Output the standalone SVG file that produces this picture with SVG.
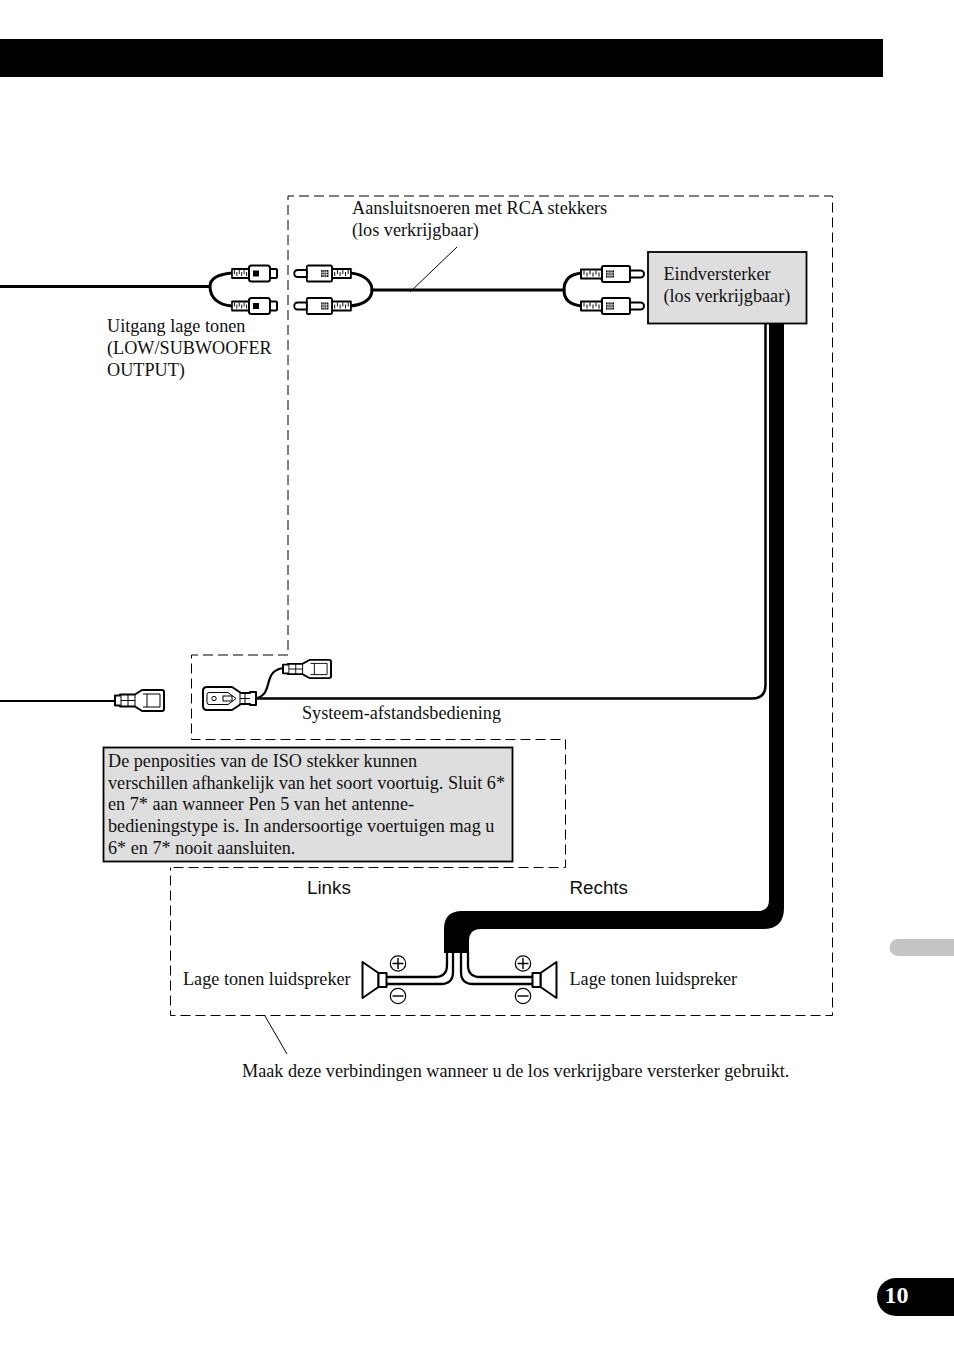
<svg xmlns="http://www.w3.org/2000/svg" width="954" height="1355" viewBox="0 0 954 1355">
<style>
text{font-family:"Liberation Serif","Times New Roman",serif;font-size:18.2px;fill:#111}
.h{font-family:"Liberation Sans",Arial,sans-serif;font-size:18.8px}
.d{fill:none;stroke:#000;stroke-width:1;stroke-dasharray:10 5}
.w{fill:none;stroke:#000;stroke-linecap:round}
.o{fill:#fff;stroke:#000;stroke-width:2;stroke-linejoin:round}
.l{fill:none;stroke:#000;stroke-width:1}
.k{fill:#000}
.b{fill:#dedede;stroke:#000;stroke-width:1.800}
</style>
<defs>
<g id="relief">
<path class="o" d="M-21-4.500H-1L0-6V6L-1 4.500H-21Z"/>
<path d="M-18-3.500v4M-15-1.500v4M-12-3.500v4M-9-1.500v4M-6-3.500v4M-3-1.500v4" stroke="#000" stroke-width="1" fill="none"/>
</g>
<g id="rca">
<use href="#relief" transform="translate(17,0) scale(.81,1)"/>
<rect class="o" x="17" y="-8" width="21" height="16" rx="2.500"/>
<rect class="k" x="21" y="-3" width="6" height="6"/>
<rect class="o" x="38" y="-4.500" width="7" height="9" rx="1"/>
</g>
<g id="rcam">
<use href="#relief"/>
<rect class="o" x="0" y="-8" width="28" height="16" rx="1.500"/>
<rect x="4" y="-3.500" width="8" height="7" fill="#000"/>
<path d="M6-3.500v7M8-3.500v7M10-3.500v7M4-1.200h8M4 1.200h8" stroke="#fff" stroke-width=".7"/>
<path class="o" stroke-width="1.500" d="M28-3.500H38.500a3.500 3.500 0 0 1 0 7H28Z"/>
</g>
<g id="iso">
<path class="o" d="M0-5H5V-6H20L27-10.500H47Q49-10.500 49-8.500V8.500Q49 10.500 47 10.500H27L20 6H5V5H0Z"/>
<path class="l" d="M6-6V6M13-6V6M6 0H20M20-6V6M28-6.500H45V6.500H28M32-6.500V6.500"/>
</g>
<g id="spk">
<path class="o" stroke-width="1.500" d="M0-18.500 16-7.500V6.500L0 17.500Z"/>
<rect class="o" stroke-width="1.500" x="16" y="-7.500" width="8" height="14"/>
</g>
<g id="plus"><circle r="7.700" fill="#fff" stroke="#000" stroke-width="1.200"/><path d="M-5.500 0H5.500M0-5.500V5.500" stroke="#000" stroke-width="1.400"/></g>
<g id="minus"><circle r="7.700" fill="#fff" stroke="#000" stroke-width="1.200"/><path d="M-5.500 0H5.500" stroke="#000" stroke-width="1.400"/></g>
</defs>
<g id="header"><rect x="0" y="39" width="883" height="38" fill="#000"/></g>
<g id="side-tab"><path d="M898 939H954V956H898A8.500 8.500 0 0 1 898 939Z" fill="#c4c4c4"/></g>
<g id="page-number">
<path d="M896 1278H954V1316H896A19 19 0 0 1 896 1278Z" fill="#000"/>
<text x="884.500" y="1303" style="font-size:24px;font-weight:bold;fill:#fff">10</text>
</g>
<g id="dashed-regions">
<path class="d" d="M288 650V196H832.500V1015.500H170.500V867.500"/>
<path class="d" d="M288 655H191.500V739.500H565.500V867.500H170.500"/>
</g>
<g id="connectors">
<path class="w" stroke-width="3" d="M0 286.500H209"/>
<path class="w" stroke-width="3" d="M232 273C220 274 210 278 210 286.500C210 299 220 305 232 306"/>
<path class="w" stroke-width="3" d="M350 273C362 274 372 280 372 290C372 300 362 305 350 306"/>
<path class="w" stroke-width="3" d="M372 290H564"/>
<path class="w" stroke-width="3" d="M582 273C570 274 564 280 564 290C564 300 570 305 582 306"/>
<path d="M457 247 410 292" stroke="#000" stroke-width="1" fill="none"/>
<path d="M0 701H115" stroke="#000" stroke-width="2" fill="none"/>
<path class="w" stroke-width="2.200" d="M257 698C268 695 267 685 270 678C272 672 277 669 283 668"/>
<path class="w" stroke-width="2.500" d="M257 698.500H752Q765.500 698.500 765.500 685V324"/>
<path fill="#000" d="M769 324H784V908Q784 929 763 929H481Q469 929 469 941V953H444V929Q444 911 462 911H758Q769 911 769 900Z"/>
<path class="w" stroke-width="2.300" d="M447 952V965Q447 977 435 977H386M453 952V972Q453 984 441 984H386"/>
<path class="w" stroke-width="2.300" d="M468 952V965Q468 977 480 977H533M461 952V972Q461 984 473 984H533"/>
<path d="M287 1054 265 1016" stroke="#000" stroke-width="1" fill="none"/>
</g>
<g id="rca-out">
<use href="#rca" x="232" y="273.500"/>
<use href="#rca" x="232" y="306"/>
</g>
<g id="rca-cable-left">
<use href="#rcam" transform="translate(332,273.500) scale(-.9,1)"/>
<use href="#rcam" transform="translate(332,306) scale(-.9,1)"/>
</g>
<g id="rca-cable-right">
<use href="#rcam" x="602" y="274"/>
<use href="#rcam" x="602" y="306"/>
</g>
<g id="amplifier">
<rect class="b" x="648" y="252" width="158.500" height="71.500"/>
<text x="663.500" y="280">Eindversterker</text>
<text x="663.500" y="302">(los verkrijgbaar)</text>
</g>
<g id="iso-left"><use href="#iso" x="115" y="700.500"/></g>
<g id="iso-top"><use href="#iso" transform="translate(283,669) scale(.98,.86)"/></g>
<g id="remote-plug">
<path class="o" d="M207 687H232L241 693H250V692H256V705H250V704H241L232 710H207Q203 710 203 706V691Q203 687 207 687Z"/>
<circle cx="214" cy="698.500" r="2.200" fill="#fff" stroke="#000" stroke-width="1"/>
<rect x="223" y="696" width="9" height="5" fill="#fff" stroke="#000" stroke-width="1"/>
<path class="l" d="M209 692.500H228L236 698.500L228 704.500H209Q207 704.500 207 702.500V694.500Q207 692.500 209 692.500ZM240 693V704M245 693V704M240 698.500H250"/>
</g>
<g id="note">
<rect class="b" x="103.500" y="747.500" width="409" height="114"/>
<text x="108" y="767">De penposities van de ISO stekker kunnen</text>
<text x="108" y="789">verschillen afhankelijk van het soort voortuig. Sluit 6*</text>
<text x="108" y="810">en 7* aan wanneer Pen 5 van het antenne-</text>
<text x="108" y="832">bedieningstype is. In andersoortige voertuigen mag u</text>
<text x="108" y="854">6* en 7* nooit aansluiten.</text>
</g>
<g id="speaker-left">
<use href="#spk" x="362.500" y="980.500"/>
<use href="#plus" x="398" y="963.500"/>
<use href="#minus" x="398" y="996"/>
</g>
<g id="speaker-right">
<use href="#spk" transform="translate(556.500,980.500) scale(-1,1)"/>
<use href="#plus" x="523" y="963.500"/>
<use href="#minus" x="523" y="996"/>
</g>
<g id="labels">
<text x="352" y="214">Aansluitsnoeren met RCA stekkers</text>
<text x="352" y="236">(los verkrijgbaar)</text>
<text x="107" y="332">Uitgang lage tonen</text>
<text x="107" y="354">(LOW/SUBWOOFER</text>
<text x="107" y="376">OUTPUT)</text>
<text x="302" y="719">Systeem-afstandsbediening</text>
<text class="h" x="307" y="894">Links</text>
<text class="h" x="569.500" y="894">Rechts</text>
<text x="183" y="985">Lage tonen luidspreker</text>
<text x="569.500" y="985">Lage tonen luidspreker</text>
<text x="242" y="1077">Maak deze verbindingen wanneer u de los verkrijgbare versterker gebruikt.</text>
</g>
</svg>
